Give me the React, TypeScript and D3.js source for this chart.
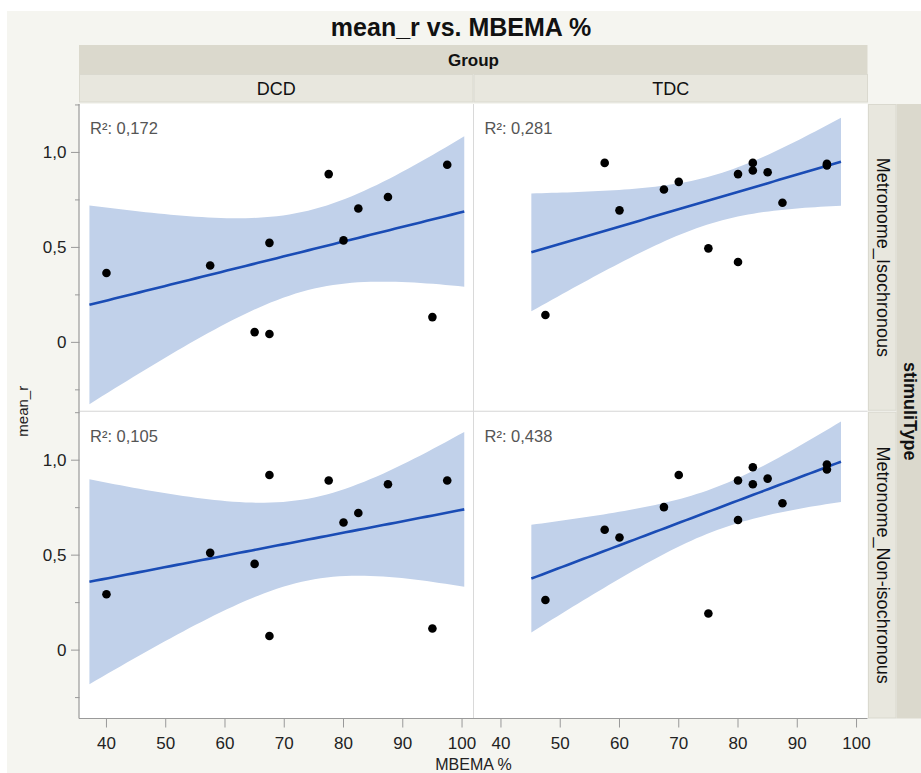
import React, { useEffect, useRef } from 'react';
import * as d3 from 'd3';

const W = 921;
const H = 773;

const title = 'mean_r vs. MBEMA %';
const groups = ['DCD', 'TDC'];
const stimuliTypes = ['Metronome_Isochronous', 'Metronome_Non-isochronous'];

// MBEMA % (x) and mean_r (y), one pair of arrays per panel
const dcdIsoX = [40, 57.5, 65, 67.5, 67.5, 77.5, 80, 82.5, 87.5, 95, 97.5];
const dcdIsoY = [0.365, 0.405, 0.054, 0.044, 0.524, 0.886, 0.537, 0.705, 0.765, 0.133, 0.935];
const tdcIsoX = [47.5, 57.5, 60, 67.5, 70, 75, 80, 80, 82.5, 82.5, 85, 87.5, 95, 95];
const tdcIsoY = [0.144, 0.945, 0.695, 0.805, 0.845, 0.495, 0.886, 0.423, 0.945, 0.905, 0.896, 0.735, 0.94, 0.932];
const dcdNonX = [40, 57.5, 65, 67.5, 67.5, 77.5, 80, 82.5, 87.5, 95, 97.5];
const dcdNonY = [0.294, 0.512, 0.454, 0.922, 0.074, 0.893, 0.672, 0.722, 0.873, 0.114, 0.893];
const tdcNonX = [47.5, 57.5, 60, 67.5, 70, 75, 80, 80, 82.5, 82.5, 85, 87.5, 95, 95];
const tdcNonY = [0.264, 0.634, 0.593, 0.753, 0.922, 0.193, 0.893, 0.685, 0.963, 0.873, 0.903, 0.773, 0.977, 0.951];

const r2Labels = ['0,172', '0,281', '0,105', '0,438'];

const xTicks = [40, 50, 60, 70, 80, 90, 100];
const yMajorTicks = [0, 0.5, 1.0];
const yMajorLabels = ['0', '0,5', '1,0'];
const yMinorTicks = [-0.25, 0.25, 0.75, 1.25];

const FONT = '"Liberation Sans", Arial, Helvetica, sans-serif';

// t quantile (Cornish-Fisher expansion), good enough for the 95% band
const tQuantile = (df) => {
  const z = 1.959964;
  const z3 = z ** 3, z5 = z ** 5, z7 = z ** 7, z9 = z ** 9;
  return z
    + (z3 + z) / (4 * df)
    + (5 * z5 + 16 * z3 + 3 * z) / (96 * df ** 2)
    + (3 * z7 + 19 * z5 + 17 * z3 - 15 * z) / (384 * df ** 3)
    + (79 * z9 + 776 * z7 + 1482 * z5 - 1920 * z3 - 945 * z) / (92160 * df ** 4);
};

// least squares fit + confidence band of the mean, drawn 5% past the data range
const fitLine = (xs, ys) => {
  const n = xs.length;
  const mx = d3.mean(xs);
  const my = d3.mean(ys);
  let sxx = 0, sxy = 0, syy = 0;
  xs.forEach((x, i) => {
    sxx += (x - mx) ** 2;
    sxy += (x - mx) * (ys[i] - my);
    syy += (ys[i] - my) ** 2;
  });
  const slope = sxy / sxx;
  const s = Math.sqrt((syy - slope * sxy) / (n - 2));
  const t = tQuantile(n - 2);
  const [x0, x1] = d3.extent(xs);
  const pad = (x1 - x0) * 0.05;
  return d3.range(0, 61).map(k => {
    const x = x0 - pad + (x1 - x0 + 2 * pad) * k / 60;
    const yhat = my + slope * (x - mx);
    const half = t * s * Math.sqrt(1 / n + (x - mx) ** 2 / sxx);
    return { x, yhat, lo: yhat - half, hi: yhat + half };
  });
};

const App = () => {
  const svgRef = useRef();

  useEffect(() => {
    const svg = d3.select(svgRef.current);
    svg.selectAll('*').remove();

    const plotL = 79.5, plotR = 867.5, plotT = 104, plotB = 718.5;
    const panelW = (plotR - plotL - 1) / 2;
    const panelH = (plotB - plotT - 1) / 2;

    // frame background
    svg.append('rect').attr('x', 7).attr('y', 11).attr('width', W - 7).attr('height', H - 11).attr('fill', '#f5f5f0');

    svg.append('text')
      .attr('x', 461).attr('y', 35.5)
      .attr('text-anchor', 'middle')
      .attr('font-family', FONT).attr('font-weight', 'bold').attr('font-size', 25)
      .attr('fill', '#111')
      .text(title);

    // Group header
    svg.append('rect').attr('x', plotL - 0.5).attr('y', 45).attr('width', plotR - plotL + 0.5).attr('height', 29).attr('fill', '#dbd9cd');
    svg.append('text')
      .attr('x', (plotL + plotR) / 2).attr('y', 66)
      .attr('text-anchor', 'middle')
      .attr('font-family', FONT).attr('font-weight', 'bold').attr('font-size', 17)
      .attr('fill', '#111')
      .text('Group');

    // stimuliType header on the right
    svg.append('rect').attr('x', 896.5).attr('y', plotT).attr('width', W - 896.5).attr('height', plotB - plotT).attr('fill', '#dbd9cd');
    svg.append('text')
      .attr('transform', `translate(903.5,${(plotT + plotB) / 2}) rotate(90)`)
      .attr('text-anchor', 'middle')
      .attr('font-family', FONT).attr('font-weight', 'bold').attr('font-size', 18)
      .attr('fill', '#111')
      .text('stimuliType');

    const panels = [
      { xs: dcdIsoX, ys: dcdIsoY },
      { xs: tdcIsoX, ys: tdcIsoY },
      { xs: dcdNonX, ys: dcdNonY },
      { xs: tdcNonX, ys: tdcNonY },
    ];

    groups.forEach((g, c) => {
      const px = plotL + c * (panelW + 1);
      svg.append('rect').attr('x', px).attr('y', 74.5).attr('width', panelW).attr('height', 27.5)
        .attr('fill', '#e8e7de').attr('stroke', '#dad9cf').attr('stroke-width', 1);
      svg.append('text')
        .attr('x', px + panelW / 2).attr('y', 95)
        .attr('text-anchor', 'middle')
        .attr('font-family', FONT).attr('font-size', 18)
        .attr('fill', '#111')
        .text(g);
    });

    stimuliTypes.forEach((st, r) => {
      const py = plotT + r * (panelH + 1);
      svg.append('rect').attr('x', 868.5).attr('y', py + 0.5).attr('width', 27.5).attr('height', panelH - 1)
        .attr('fill', '#e8e7de').attr('stroke', '#dad9cf').attr('stroke-width', 1);
      svg.append('text')
        .attr('transform', `translate(876.5,${py + panelH / 2}) rotate(90)`)
        .attr('text-anchor', 'middle')
        .attr('font-family', FONT).attr('font-size', 18)
        .attr('fill', '#111')
        .text(st);
    });

    stimuliTypes.forEach((st, r) => {
      groups.forEach((g, c) => {
        const idx = r * 2 + c;
        const { xs, ys } = panels[idx];
        const px = plotL + c * (panelW + 1);
        const py = plotT + r * (panelH + 1);

        const xScale = d3.scaleLinear().domain([35.45, 101.85]).range([px, px + panelW]);
        const yScale = d3.scaleLinear().domain([-0.36, 1.255]).range([py + panelH, py]);

        const clipId = `clip-${idx}`;
        svg.append('clipPath').attr('id', clipId)
          .append('rect').attr('x', px).attr('y', py).attr('width', panelW).attr('height', panelH);

        svg.append('rect').attr('x', px).attr('y', py).attr('width', panelW).attr('height', panelH).attr('fill', '#fff');

        const gp = svg.append('g').attr('clip-path', `url(#${clipId})`);
        const fit = fitLine(xs, ys);

        // confidence band
        gp.append('path')
          .datum(fit)
          .attr('fill', '#c1d1ea')
          .attr('d', d3.area()
            .x(d => xScale(d.x))
            .y0(d => yScale(d.lo))
            .y1(d => yScale(d.hi)));

        // line of fit
        gp.append('path')
          .datum(fit)
          .attr('fill', 'none')
          .attr('stroke', '#1a4cb5')
          .attr('stroke-width', 2.6)
          .attr('d', d3.line().x(d => xScale(d.x)).y(d => yScale(d.yhat)));

        gp.selectAll('.dot')
          .data(xs.map((x, i) => ({ x, y: ys[i] })))
          .enter().append('circle')
          .attr('class', 'dot')
          .attr('cx', d => xScale(d.x))
          .attr('cy', d => yScale(d.y))
          .attr('r', 4.3)
          .attr('fill', '#000');

        svg.append('text')
          .attr('x', px + 10.5).attr('y', py + 30)
          .attr('font-family', FONT).attr('font-size', 16.5)
          .attr('fill', '#555')
          .text(`R²: ${r2Labels[idx]}`);

        // y axis ticks (left column only)
        if (c === 0) {
          yMajorTicks.forEach((t, i) => {
            svg.append('line')
              .attr('x1', plotL - 8.5).attr('x2', plotL)
              .attr('y1', yScale(t)).attr('y2', yScale(t))
              .attr('stroke', '#999');
            svg.append('text')
              .attr('x', plotL - 13).attr('y', yScale(t))
              .attr('dy', '0.35em')
              .attr('text-anchor', 'end')
              .attr('font-family', FONT).attr('font-size', 17)
              .attr('fill', '#222')
              .text(yMajorLabels[i]);
          });
          yMinorTicks.forEach(t => {
            svg.append('line')
              .attr('x1', plotL - 4.5).attr('x2', plotL)
              .attr('y1', yScale(t)).attr('y2', yScale(t))
              .attr('stroke', '#999');
          });
        }

        // x axis ticks (bottom row only)
        if (r === 1) {
          xTicks.forEach(t => {
            svg.append('line')
              .attr('x1', xScale(t)).attr('x2', xScale(t))
              .attr('y1', plotB).attr('y2', plotB + 9)
              .attr('stroke', '#999');
            svg.append('text')
              .attr('x', xScale(t)).attr('y', plotB + 30)
              .attr('text-anchor', 'middle')
              .attr('font-family', FONT).attr('font-size', 17)
              .attr('fill', '#222')
              .text(t);
          });
        }
      });
    });

    // separators between panels
    svg.append('line')
      .attr('x1', plotL + panelW + 0.5).attr('x2', plotL + panelW + 0.5)
      .attr('y1', plotT).attr('y2', plotB)
      .attr('stroke', '#d9d9d9');
    svg.append('line')
      .attr('x1', plotL).attr('x2', plotR)
      .attr('y1', plotT + panelH + 0.5).attr('y2', plotT + panelH + 0.5)
      .attr('stroke', '#d9d9d9');

    // axis lines
    svg.append('line')
      .attr('x1', plotL - 0.5).attr('x2', plotL - 0.5)
      .attr('y1', plotT).attr('y2', plotB)
      .attr('stroke', '#9a9a9a').attr('stroke-width', 1.2);
    svg.append('line')
      .attr('x1', plotL - 0.5).attr('x2', plotR)
      .attr('y1', plotB).attr('y2', plotB)
      .attr('stroke', '#9a9a9a').attr('stroke-width', 1.2);

    // axis titles
    svg.append('text')
      .attr('x', (plotL + plotR) / 2).attr('y', 770)
      .attr('text-anchor', 'middle')
      .attr('font-family', FONT).attr('font-size', 16)
      .attr('fill', '#222')
      .text('MBEMA %');
    svg.append('text')
      .attr('transform', `translate(28,${(plotT + plotB) / 2}) rotate(-90)`)
      .attr('text-anchor', 'middle')
      .attr('font-family', FONT).attr('font-size', 15)
      .attr('fill', '#222')
      .text('mean_r');
  }, []);

  return (
    <svg ref={svgRef} width={W} height={H} style={{ position: 'absolute', left: 0, top: 0, background: '#fff' }}></svg>
  );
};

export default App;
